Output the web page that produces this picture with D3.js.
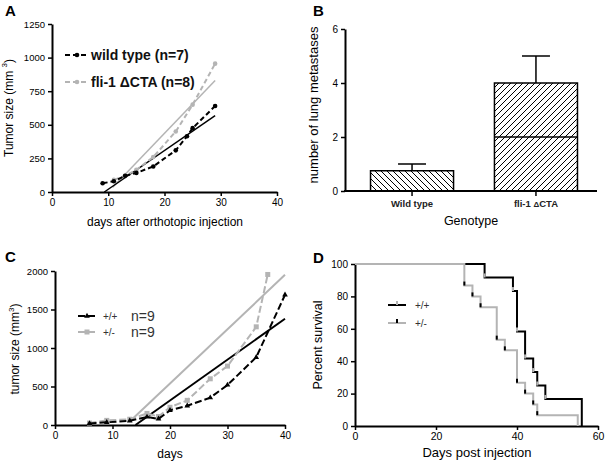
<!DOCTYPE html>
<html><head><meta charset="utf-8">
<script src="https://cdn.jsdelivr.net/npm/d3@7"></script>
<style>
body{margin:0;background:#fff;}
text{font-family:"Liberation Sans",Arial,sans-serif;}
</style></head>
<body><svg id="c" width="605" height="462"></svg>
<script>
// ---------- Panel A data ----------
const aXTicks = [0,10,20,30,40];
const aYTicks = [0,250,500,750,1000,1250];
const wtDays = [9,11,13,15,18,22,24,25,29];
const wtSize = [65,80,120,142,190,310,415,475,640];
const fliDays = [11,13,15,18,22,25,29];
const fliSize = [90,120,165,260,450,650,955];
const wtFitX = [9.3,29];
const wtFitY = [0,568];
const fliFitX = [10.8,29];
const fliFitY = [35,830];
// ---------- Panel B data ----------
const bCats = ["Wild type","fli-1 \u0394CTA"];
const bMeans = [0.75,4];
const bErr = [1.0,5];
const bMedian = [null,2];
const bYTicks = [0,2,4,6];
// ---------- Panel C data ----------
const cXTicks = [0,10,20,30,40];
const cYTicks = [0,500,1000,1500,2000];
const ppDays = [6,9,13,16,18,20,23,27,30,35,40];
const ppSize = [20,35,55,105,80,190,250,355,520,880,1690];
const pmDays = [6,9,13,16,18,20,23,27,30,35,37];
const pmSize = [25,60,75,150,110,230,320,600,765,1275,1955];
const ppFitX = [14,40];
const ppFitY = [0,1380];
const pmFitX = [13.5,40];
const pmFitY = [80,1950];
// ---------- Panel D data ----------
const dXTicks = [0,20,40,60];
const dYTicks = [0,20,40,60,80,100];
const wtTimes = [0,32,39,40,42,44,45,47,56];
const wtSurv = [100,91.7,83.3,58.3,41.7,33.3,25,16.7,0];
const hetTimes = [0,27,29,31,35,37,40,42,44,45,55];
const hetSurv = [100,86.7,80,73.3,53.3,46.7,26.7,20,13.3,6.7,0];

const GREY = "#b4b4b4";
const svg = d3.select("#c");
const fmt = d3.format("d");

function styleAxis(g, fs){
  g.select(".domain").attr("stroke","#000").attr("stroke-width",2);
  g.selectAll(".tick line").attr("stroke","#000").attr("stroke-width",1.5);
  g.selectAll(".tick text").attr("font-size",fs).attr("fill","#000")
   .attr("font-family","Liberation Sans, Arial, sans-serif");
}
function zip(a,b){return a.map((v,i)=>[v,b[i]]);}

// ================= Panel A =================
{
  const x = d3.scaleLinear().domain([0,40]).range([52,277]);
  const y = d3.scaleLinear().domain([0,1250]).range([192,24]);
  const gx = svg.append("g").attr("transform","translate(0,192)")
    .call(d3.axisBottom(x).tickValues(aXTicks).tickFormat(fmt).tickSize(4).tickSizeOuter(0).tickPadding(3));
  styleAxis(gx,10);
  const gy = svg.append("g").attr("transform","translate(52,0)")
    .call(d3.axisLeft(y).tickValues(aYTicks).tickFormat(fmt).tickSize(4).tickSizeOuter(0).tickPadding(3));
  styleAxis(gy,9.5);
  const line = d3.line().x(d=>x(d[0])).y(d=>y(d[1]));
  svg.append("path").attr("d",line(zip(fliFitX,fliFitY))).attr("stroke",GREY).attr("stroke-width",1.5).attr("fill","none");
  svg.append("path").attr("d",line(zip(wtFitX,wtFitY))).attr("stroke","#000").attr("stroke-width",1.5).attr("fill","none");
  svg.append("path").attr("d",line(zip(fliDays,fliSize))).attr("stroke",GREY).attr("stroke-width",2).attr("stroke-dasharray","5,3").attr("fill","none");
  svg.selectAll(".fdot").data(zip(fliDays,fliSize)).enter().append("circle")
    .attr("cx",d=>x(d[0])).attr("cy",d=>y(d[1])).attr("r",2.3).attr("fill",GREY);
  svg.append("path").attr("d",line(zip(wtDays,wtSize))).attr("stroke","#000").attr("stroke-width",2).attr("stroke-dasharray","5,3").attr("fill","none");
  svg.selectAll(".wdot").data(zip(wtDays,wtSize)).enter().append("circle")
    .attr("cx",d=>x(d[0])).attr("cy",d=>y(d[1])).attr("r",2.3).attr("fill","#000");
  const lg = [[55,"#000","wild type (n=7)"],[82,GREY,"fli-1 \u0394CTA (n=8)"]];
  lg.forEach(([ly,c,t])=>{
    svg.append("line").attr("x1",65).attr("x2",89).attr("y1",ly).attr("y2",ly).attr("stroke",c).attr("stroke-width",2).attr("stroke-dasharray","5,3");
    svg.append("circle").attr("cx",77).attr("cy",ly).attr("r",2.3).attr("fill",c);
    svg.append("text").attr("x",91).attr("y",ly+5).attr("font-size",14).attr("font-weight","bold").attr("fill","#111").text(t);
  });
  svg.append("text").attr("x",5).attr("y",16).attr("font-size",15).attr("font-weight","bold").text("A");
  const yl = svg.append("text").attr("transform","translate(13,108) rotate(-90)").attr("text-anchor","middle").attr("font-size",12);
  yl.append("tspan").text("Tumor size (mm ");
  yl.append("tspan").attr("font-size",8).attr("dy",-6).text("3");
  yl.append("tspan").attr("dy",6).text(")");
  svg.append("text").attr("x",165).attr("y",226).attr("text-anchor","middle").attr("font-size",12).text("days after orthotopic injection");
}

// ================= Panel B =================
{
  const defs = svg.append("defs");
  const p1 = defs.append("pattern").attr("id","hatchBack").attr("patternUnits","userSpaceOnUse").attr("width",6).attr("height",6);
  p1.append("path").attr("d","M-1,-1 L7,7 M-7,-1 L1,7 M5,-1 L13,7").attr("stroke","#000").attr("stroke-width",1);
  const p2 = defs.append("pattern").attr("id","hatchFwd").attr("patternUnits","userSpaceOnUse").attr("width",6).attr("height",6);
  p2.append("path").attr("d","M-1,7 L7,-1 M-7,7 L1,-1 M5,7 L13,-1").attr("stroke","#000").attr("stroke-width",1);
  const x = d3.scaleBand().domain(bCats).range([345,603]).paddingInner(0.33).paddingOuter(0.206);
  const y = d3.scaleLinear().domain([0,6]).range([191,29]);
  bCats.forEach((c,i)=>{
    const cx = x(c)+x.bandwidth()/2;
    svg.append("line").attr("x1",cx).attr("x2",cx).attr("y1",y(bMeans[i])).attr("y2",y(bErr[i])).attr("stroke","#000").attr("stroke-width",1.5);
    svg.append("line").attr("x1",cx-14).attr("x2",cx+14).attr("y1",y(bErr[i])).attr("y2",y(bErr[i])).attr("stroke","#000").attr("stroke-width",1.5);
  });
  svg.selectAll(".bar").data(bCats).enter().append("rect")
    .attr("x",d=>x(d)).attr("width",x.bandwidth())
    .attr("y",(d,i)=>y(bMeans[i])).attr("height",(d,i)=>y(0)-y(bMeans[i]))
    .attr("fill",(d,i)=>i===0?"url(#hatchBack)":"url(#hatchFwd)")
    .attr("stroke","#000").attr("stroke-width",1.5);
  bCats.forEach((c,i)=>{
    if(bMedian[i]!=null){
      svg.append("line").attr("x1",x(c)).attr("x2",x(c)+x.bandwidth()).attr("y1",y(bMedian[i])).attr("y2",y(bMedian[i])).attr("stroke","#000").attr("stroke-width",1.5);
    }
  });
  const gy = svg.append("g").attr("transform","translate(345,0)")
    .call(d3.axisLeft(y).tickValues(bYTicks).tickFormat(fmt).tickSize(4).tickSizeOuter(0).tickPadding(3));
  styleAxis(gy,10);
  svg.append("line").attr("x1",344).attr("x2",597).attr("y1",191).attr("y2",191).attr("stroke","#000").attr("stroke-width",2);
  bCats.forEach(c=>{
    const cx = x(c)+x.bandwidth()/2;
    svg.append("line").attr("x1",cx).attr("x2",cx).attr("y1",191).attr("y2",196).attr("stroke","#000").attr("stroke-width",1.5);
  });
  svg.append("text").attr("x",x(bCats[0])+x.bandwidth()/2).attr("y",207).attr("text-anchor","middle").attr("font-size",9.5).attr("font-weight","bold").attr("fill","#222").text(bCats[0]);
  const t2 = svg.append("text").attr("x",x(bCats[1])+x.bandwidth()/2).attr("y",207).attr("text-anchor","middle").attr("font-size",9.5).attr("font-weight","bold").attr("fill","#222");
  t2.append("tspan").text("fli-1 ");
  t2.append("tspan").attr("font-size",8).text("\u0394");
  t2.append("tspan").text("CTA");
  svg.append("text").attr("x",471).attr("y",225).attr("text-anchor","middle").attr("font-size",12.5).text("Genotype");
  svg.append("text").attr("transform","translate(318,105) rotate(-90)").attr("text-anchor","middle").attr("font-size",13).text("number of lung metastases");
  svg.append("text").attr("x",313).attr("y",16).attr("font-size",15).attr("font-weight","bold").text("B");
}

// ================= Panel C =================
{
  const x = d3.scaleLinear().domain([0,40]).range([55,285]);
  const y = d3.scaleLinear().domain([0,2000]).range([425,271]);
  const gx = svg.append("g").attr("transform","translate(0,425)")
    .call(d3.axisBottom(x).tickValues(cXTicks).tickFormat(fmt).tickSize(4).tickSizeOuter(0).tickPadding(3));
  styleAxis(gx,10);
  const gy = svg.append("g").attr("transform","translate(55,0)")
    .call(d3.axisLeft(y).tickValues(cYTicks).tickFormat(fmt).tickSize(4).tickSizeOuter(0).tickPadding(3));
  styleAxis(gy,9.5);
  const line = d3.line().x(d=>x(d[0])).y(d=>y(d[1]));
  svg.append("path").attr("d",line(zip(pmFitX,pmFitY))).attr("stroke",GREY).attr("stroke-width",2).attr("fill","none");
  svg.append("path").attr("d",line(zip(ppFitX,ppFitY))).attr("stroke","#000").attr("stroke-width",2).attr("fill","none");
  svg.append("path").attr("d",line(zip(pmDays,pmSize))).attr("stroke",GREY).attr("stroke-width",2).attr("stroke-dasharray","7,3").attr("fill","none");
  svg.selectAll(".sq").data(zip(pmDays,pmSize)).enter().append("rect")
    .attr("x",d=>x(d[0])-2.5).attr("y",d=>y(d[1])-2.5).attr("width",5).attr("height",5).attr("fill",GREY);
  svg.append("path").attr("d",line(zip(ppDays,ppSize))).attr("stroke","#000").attr("stroke-width",2).attr("stroke-dasharray","7,3").attr("fill","none");
  const tri = d3.symbol().type(d3.symbolTriangle).size(14);
  svg.selectAll(".tri").data(zip(ppDays,ppSize)).enter().append("path")
    .attr("d",tri).attr("transform",d=>`translate(${x(d[0])},${y(d[1])})`).attr("fill","#000");
  const lg = [[316,"#000","+/+",true],[332,GREY,"+/-",false]];
  lg.forEach(([ly,c,t,isTri])=>{
    svg.append("line").attr("x1",78).attr("x2",96).attr("y1",ly).attr("y2",ly).attr("stroke",c).attr("stroke-width",2).attr("stroke-dasharray","7,3");
    if(isTri) svg.append("path").attr("d",tri).attr("transform",`translate(87,${ly})`).attr("fill",c);
    else svg.append("rect").attr("x",84.5).attr("y",ly-2.5).attr("width",5).attr("height",5).attr("fill",c);
    svg.append("text").attr("x",103).attr("y",ly+4).attr("font-size",10).attr("fill","#333").text(t);
    svg.append("text").attr("x",131).attr("y",ly+5).attr("font-size",14).attr("fill","#333").text("n=9");
  });
  svg.append("text").attr("x",5).attr("y",262).attr("font-size",15).attr("font-weight","bold").text("C");
  const yl = svg.append("text").attr("transform","translate(19,349) rotate(-90)").attr("text-anchor","middle").attr("font-size",12);
  yl.append("tspan").text("tumor size (mm");
  yl.append("tspan").attr("font-size",8).attr("dy",-5).text("3");
  yl.append("tspan").attr("dy",5).text(")");
  svg.append("text").attr("x",170).attr("y",458).attr("text-anchor","middle").attr("font-size",12).text("days");
}

// ================= Panel D =================
{
  const x = d3.scaleLinear().domain([0,60]).range([355,598]);
  const y = d3.scaleLinear().domain([0,100]).range([426,264]);
  const gx = svg.append("g").attr("transform","translate(0,426)")
    .call(d3.axisBottom(x).tickValues(dXTicks).tickFormat(fmt).tickSize(4).tickSizeOuter(0).tickPadding(3));
  styleAxis(gx,10.5);
  const gy = svg.append("g").attr("transform","translate(355,0)")
    .call(d3.axisLeft(y).tickValues(dYTicks).tickFormat(fmt).tickSize(4).tickSizeOuter(0).tickPadding(3));
  styleAxis(gy,10);
  const step = d3.line().x(d=>x(d[0])).y(d=>y(d[1])).curve(d3.curveStepAfter);
  svg.append("path").attr("d",step(zip(wtTimes,wtSurv))).attr("stroke","#000").attr("stroke-width",2).attr("fill","none");
  svg.append("path").attr("d",step(zip(hetTimes,hetSurv))).attr("stroke",GREY).attr("stroke-width",2).attr("fill","none");
  zip(wtTimes,wtSurv).slice(1,-1).forEach(d=>{
    svg.append("line").attr("x1",x(d[0])).attr("x2",x(d[0])).attr("y1",y(d[1])).attr("y2",y(d[1])-4).attr("stroke",GREY).attr("stroke-width",2);
  });
  zip(hetTimes,hetSurv).slice(1,-1).forEach(d=>{
    svg.append("line").attr("x1",x(d[0])).attr("x2",x(d[0])).attr("y1",y(d[1])).attr("y2",y(d[1])-4).attr("stroke","#000").attr("stroke-width",2);
  });
  const lg = [[305,"#000",GREY,"+/+"],[323,GREY,"#000","+/-"]];
  lg.forEach(([ly,c,m,t])=>{
    svg.append("line").attr("x1",388).attr("x2",406).attr("y1",ly).attr("y2",ly).attr("stroke",c).attr("stroke-width",2);
    svg.append("line").attr("x1",397).attr("x2",397).attr("y1",ly).attr("y2",ly-4).attr("stroke",m).attr("stroke-width",2);
    svg.append("text").attr("x",415).attr("y",ly+4).attr("font-size",10).attr("fill","#333").text(t);
  });
  svg.append("text").attr("x",313).attr("y",263).attr("font-size",15).attr("font-weight","bold").text("D");
  svg.append("text").attr("transform","translate(322,345) rotate(-90)").attr("text-anchor","middle").attr("font-size",12.5).text("Percent survival");
  svg.append("text").attr("x",477).attr("y",457).attr("text-anchor","middle").attr("font-size",13).text("Days post injection");
}
</script></body></html>
